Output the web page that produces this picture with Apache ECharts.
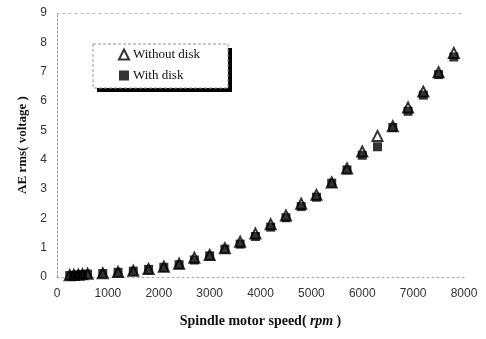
<!DOCTYPE html>
<html>
<head>
<meta charset="utf-8">
<script src="https://cdn.jsdelivr.net/npm/echarts@6/dist/echarts.min.js"></script>
<style>
  html, body { margin: 0; padding: 0; background: #fff; }
  #chart { width: 486px; height: 339px; }
</style>
</head>
<body>
<div id="chart"></div>
<script>
// spindle speed (rpm)
var speeds = [250, 330, 420, 500, 600, 900, 1200, 1500, 1800, 2100, 2400, 2700, 3000, 3300, 3600,
	3900, 4200, 4500, 4800, 5100, 5400, 5700, 6000, 6300, 6600, 6900, 7200, 7500, 7800];
// AE rms voltage
var withoutDisk = [0.06, 0.07, 0.08, 0.09, 0.11, 0.13, 0.17, 0.21, 0.27, 0.35, 0.45, 0.66, 0.75, 0.98, 1.2,
	1.48, 1.8, 2.1, 2.5, 2.8, 3.22, 3.7, 4.28, 4.81, 5.14, 5.78, 6.32, 6.98, 7.64];
var withDisk = [0.05, 0.06, 0.07, 0.08, 0.1, 0.12, 0.16, 0.2, 0.26, 0.33, 0.42, 0.58, 0.72, 0.95, 1.12,
	1.38, 1.7, 2.02, 2.4, 2.72, 3.2, 3.65, 4.15, 4.44, 5.1, 5.65, 6.2, 6.9, 7.5];
var seriesNames = ['Without disk', 'With disk'];

function pairs(xs, ys) {
	return xs.map(function (x, i) { return [x, ys[i]]; });
}

var myChart = echarts.init(document.getElementById('chart'));
var option = {
	animation: false,
	backgroundColor: '#fff',
	grid: {
		left: 57,
		right: 22,
		top: 13,
		bottom: 62
	},
	// legend frame with heavy drop shadow
	graphic: [
		{type: 'rect', z: 90, shape: {x: 97, y: 48, width: 135, height: 44}, style: {fill: '#000'}},
		{type: 'rect', z: 91, shape: {x: 93, y: 44, width: 135, height: 44},
			style: {fill: '#fff', stroke: '#999', lineWidth: 1, lineDash: [3, 2]}}
	],
	legend: {
		orient: 'vertical',
		left: 118,
		top: 48,
		z: 100,
		padding: 0,
		itemGap: 8,
		itemWidth: 10,
		itemHeight: 10,
		data: seriesNames,
		textStyle: {
			color: '#111',
			fontFamily: 'Liberation Serif',
			fontSize: 13,
			padding: [0, 0, 0, -1]
		}
	},
	xAxis: [{
		type: 'value',
		min: 0,
		max: 8000,
		interval: 1000,
		name: '{a|Spindle motor speed(} {b|rpm} {a|)}',
		nameLocation: 'middle',
		nameGap: 37,
		nameTextStyle: {
			rich: {
				a: {fontFamily: 'Liberation Serif', fontWeight: 'bold', fontSize: 14, color: '#111'},
				b: {fontFamily: 'Liberation Serif', fontWeight: 'bold', fontStyle: 'italic', fontSize: 14, color: '#111'}
			}
		},
		axisLine: {lineStyle: {color: '#aaa', type: [2, 3], width: 1}},
		axisTick: {show: false},
		splitLine: {show: false},
		axisLabel: {
			color: '#333',
			fontFamily: 'Liberation Sans',
			fontSize: 12,
			margin: 11,
			formatter: function (v) { return String(v); }
		}
	}, {
		type: 'value',
		position: 'top',
		min: 0,
		max: 8000,
		axisLine: {show: true, lineStyle: {color: '#bbb', type: [2, 4], width: 1}},
		axisTick: {show: false},
		axisLabel: {show: false},
		splitLine: {show: false}
	}],
	yAxis: {
		type: 'value',
		min: 0,
		max: 9,
		interval: 1,
		name: 'AE rms( voltage )',
		nameLocation: 'middle',
		nameGap: 28,
		nameTextStyle: {
			fontFamily: 'Liberation Serif',
			fontWeight: 'bold',
			fontSize: 13,
			color: '#111'
		},
		axisLine: {show: true, lineStyle: {color: '#999', type: [2, 2], width: 1}},
		axisTick: {show: false},
		splitLine: {show: false},
		axisLabel: {
			color: '#333',
			fontFamily: 'Liberation Sans',
			fontSize: 12,
			margin: 10
		}
	},
	series: [
		{
			name: seriesNames[0],
			type: 'scatter',
			symbol: 'triangle',
			symbolSize: 10,
			z: 2,
			itemStyle: {color: '#fff', borderColor: '#000', borderWidth: 2},
			data: pairs(speeds, withoutDisk)
		},
		{
			name: seriesNames[1],
			type: 'scatter',
			symbol: 'rect',
			symbolSize: 9,
			z: 3,
			itemStyle: {color: '#000'},
			data: pairs(speeds, withDisk)
		}
	]
};
myChart.setOption(option);
</script>
</body>
</html>
